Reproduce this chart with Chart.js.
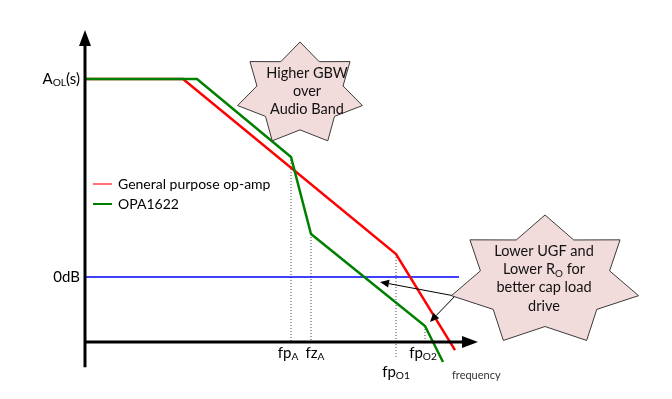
<!DOCTYPE html>
<html>
<head>
<meta charset="utf-8">
<script src="https://cdn.jsdelivr.net/npm/chart.js@4/dist/chart.umd.min.js"></script>
<style>
  body { margin: 0; background: #fff; }
  #wrap { width: 672px; height: 399px; }
</style>
</head>
<body>
<div id="wrap"><canvas id="bode" width="672" height="399"></canvas></div>
<script>
// Open-loop gain sketch (x: log frequency, arbitrary units; y: gain in dB)
const gpLabel = 'General purpose op-amp';
const gpX = [0, 9.8, 31.1, 37.0];
const gpY = [100, 100, 11.6, -36.9];

const opaLabel = 'OPA1622';
const opaX = [0, 11.2, 20.6, 22.6, 34.0, 35.8];
const opaY = [100, 100, 60.6, 21.7, -24.7, -42.9];

const zeroDbX = [0, 37.4];
const zeroDbY = [0, 0];

// dotted frequency markers
const markerLabels = [[['fp', 0], ['A', 1]], [['fz', 0], ['A', 1]], [['fp', 0], ['O1', 1]], [['fp', 0], ['O2', 1]]];
const markerX = [20.6, 22.6, 31.1, 34.0];
const markerTop = [60.6, 21.7, 11.6, -24.7];
const markerBottom = [-32.8, -32.8, -40.4, -32.8];

// y tick labels
const yTickValues = [100, 0];
const yTickLabels = [[['A', 0], ['OL', 1], ['(s)', 0]], [['0dB', 0]]];

const axisMinX = 0, axisMaxX = 39.3;
const axisMinY = -32.8, axisMaxY = 124.7, axisBottomY = -45.5;

// callouts
const gbwText = [[['Higher GBW', 0]], [['over', 0]], [['Audio Band', 0]]];
const gbwCenter = [21.5, 92.4];
const ugfText = [[['Lower UGF and', 0]], [['Lower R', 0], ['O', 1], [' for', 0]], [['better cap load', 0]], [['drive', 0]]];
const ugfCenter = [46.0, -2.0];
const ugfArrowStart = [37.0, -9.6];
const ugfArrowEnds = [[29.5, -2.5], [34.5, -22.7]];

const FONT = 'Lato, "Open Sans", sans-serif';
const labelOffsets = [[-3, 11], [4, 11], [0, 30], [-2, 11]];

function pts(xs, ys) {
    return xs.map((x, i) => ({ x: x, y: ys[i] }));
}

function richText(ctx, parts, x, y, size, align) {
    const widths = parts.map(p => {
        ctx.font = (p[1] ? size * 0.68 : size) + 'px ' + FONT;
        return ctx.measureText(p[0]).width;
    });
    const total = widths.reduce((a, b) => a + b, 0);
    let cx = align === 'center' ? x - total / 2 : align === 'right' ? x - total : x;
    ctx.textAlign = 'left';
    ctx.textBaseline = 'middle';
    parts.forEach((p, i) => {
        ctx.font = (p[1] ? size * 0.68 : size) + 'px ' + FONT;
        ctx.fillText(p[0], cx, p[1] ? y + size * 0.28 : y);
        cx += widths[i];
    });
}

function drawStar(ctx, cx, cy, rx, ry) {
    const n = 7, inner = 0.69;
    ctx.beginPath();
    for (let i = 0; i < n * 2; i++) {
        const a = -Math.PI / 2 + i * Math.PI / n;
        const r = i % 2 === 0 ? 1 : inner;
        const px = cx + Math.cos(a) * rx * r;
        const py = cy + Math.sin(a) * ry * r;
        if (i === 0) ctx.moveTo(px, py); else ctx.lineTo(px, py);
    }
    ctx.closePath();
    ctx.fillStyle = '#f2dcdb';
    ctx.fill();
    ctx.strokeStyle = '#3a3a3a';
    ctx.lineWidth = 1;
    ctx.stroke();
}

function arrow(ctx, x1, y1, x2, y2, width, head, headW) {
    const a = Math.atan2(y2 - y1, x2 - x1);
    const bx = x2 - Math.cos(a) * head, by = y2 - Math.sin(a) * head;
    ctx.beginPath();
    ctx.moveTo(x1, y1);
    ctx.lineTo(bx, by);
    ctx.lineWidth = width;
    ctx.stroke();
    ctx.beginPath();
    ctx.moveTo(x2, y2);
    ctx.lineTo(bx + Math.sin(a) * headW, by - Math.cos(a) * headW);
    ctx.lineTo(bx - Math.sin(a) * headW, by + Math.cos(a) * headW);
    ctx.closePath();
    ctx.fill();
}

const diagramPlugin = {
    id: 'diagram',
    afterDatasetsDraw(chart) {
        const ctx = chart.ctx;
        const xs = chart.scales.x, ys = chart.scales.y;
        const X = v => xs.getPixelForValue(v), Y = v => ys.getPixelForValue(v);
        ctx.save();

        // axes with arrow heads
        ctx.strokeStyle = '#000';
        ctx.fillStyle = '#000';
        ctx.lineCap = 'butt';
        arrow(ctx, X(axisMinX), Y(axisBottomY), X(axisMinX), Y(axisMaxY), 3, 16, 6);
        arrow(ctx, X(axisMinX), Y(axisMinY), X(axisMaxX), Y(axisMinY), 3, 16, 6);

        // y tick labels
        ctx.fillStyle = '#000';
        yTickValues.forEach((v, i) => richText(ctx, yTickLabels[i], X(axisMinX) - 5, Y(v), 15, 'right'));

        // marker labels
        markerX.forEach((v, i) => {
            richText(ctx, markerLabels[i], X(v) + labelOffsets[i][0], Y(axisMinY) + labelOffsets[i][1], 15, 'center');
        });
        ctx.fillStyle = '#333';
        ctx.font = '11px ' + FONT;
        ctx.textAlign = 'left';
        ctx.fillText('frequency', X(axisMaxX) - 26, Y(axisMinY) + 33);

        // legend
        [0, 1].forEach(i => {
            const ds = chart.data.datasets[i];
            const ly = 184 + i * 20;
            ctx.strokeStyle = ds.borderColor;
            ctx.globalAlpha = i === 0 ? 0.55 : 1;
            ctx.lineWidth = 2;
            ctx.beginPath();
            ctx.moveTo(93, ly);
            ctx.lineTo(112, ly);
            ctx.stroke();
            ctx.globalAlpha = 1;
            ctx.fillStyle = '#000';
            richText(ctx, [[ds.label, 0]], 118, ly, 14, 'left');
        });

        // callout arrows, then stars on top
        ctx.strokeStyle = '#000';
        ctx.fillStyle = '#000';
        ugfArrowEnds.forEach(e => {
            arrow(ctx, X(ugfArrowStart[0]), Y(ugfArrowStart[1]), X(e[0]), Y(e[1]), 1, 9, 4);
        });

        drawStar(ctx, X(gbwCenter[0]), Y(gbwCenter[1]), 64, 52);
        ctx.fillStyle = '#111';
        gbwText.forEach((line, i) => richText(ctx, line, X(gbwCenter[0]) + 7, Y(gbwCenter[1]) - 21 + i * 18, 14.5, 'center'));

        drawStar(ctx, X(ugfCenter[0]), Y(ugfCenter[1]), 96, 66);
        ctx.fillStyle = '#111';
        ugfText.forEach((line, i) => richText(ctx, line, X(ugfCenter[0]) - 1, Y(ugfCenter[1]) - 30 + i * 18.3, 14.5, 'center'));

        ctx.restore();
    }
};

const markerSets = markerX.map((x, i) => ({
    label: 'marker' + i,
    data: pts([x, x], [markerTop[i], markerBottom[i]]),
    borderColor: '#444',
    borderWidth: 1,
    borderDash: [1, 2],
    showLine: true,
    clip: false,
    order: 5
}));

new Chart(document.getElementById('bode'), {
    type: 'scatter',
    data: {
        datasets: [
            { label: gpLabel, data: pts(gpX, gpY), borderColor: '#ff0000', borderWidth: 2.5, showLine: true, clip: false, order: 2 },
            { label: opaLabel, data: pts(opaX, opaY), borderColor: '#008000', borderWidth: 2.5, showLine: true, clip: false, order: 1 },
            { label: '0dB', data: pts(zeroDbX, zeroDbY), borderColor: '#0000ff', borderWidth: 1.6, showLine: true, clip: false, order: 3 }
        ].concat(markerSets)
    },
    options: {
        responsive: false,
        animation: false,
        layout: { padding: { left: 85, right: 194, top: 30, bottom: 57 } },
        elements: { point: { radius: 0, hoverRadius: 0 }, line: { tension: 0 } },
        scales: {
            x: { type: 'linear', min: axisMinX, max: axisMaxX, display: false },
            y: { type: 'linear', min: axisMinY, max: axisMaxY, display: false }
        },
        plugins: {
            legend: { display: false },
            tooltip: { enabled: false }
        }
    },
    plugins: [diagramPlugin]
});
</script>
</body>
</html>
